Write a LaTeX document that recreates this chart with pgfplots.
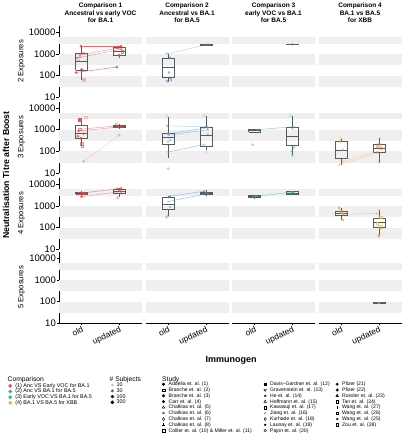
\documentclass[border=0pt]{standalone}
\usepackage{fontspec}
\setmainfont{Liberation Sans}
\usepackage{pgfplots}
\pgfplotsset{compat=1.18}
\usetikzlibrary{plotmarks}
\definecolor{cR}{HTML}{E5484D}
\definecolor{cB}{HTML}{4A97D9}
\definecolor{cG}{HTML}{2DB391}
\definecolor{cO}{HTML}{F5A732}
\definecolor{bandgray}{HTML}{EFEFEF}
\definecolor{boxc}{HTML}{5A5A5A}
\pgfplotsset{
  mypanel/.style={scale only axis, width=83pt, height=71.5pt,
    ymin=10, ymax=20000, xmin=0.4, xmax=2.6, clip=false},
  myleft/.style={axis y line*=left, y axis line style={line width=0.9pt, black},
    ytick={10,100,1000,10000}, yticklabels={10,100,1000,10000},
    yticklabel style={font=\fontsize{9.5}{10}\selectfont, inner sep=1pt},
    ytick style={black, line width=0.5pt}, tick align=outside, major tick length=2.5pt},
  mybottom/.style={axis x line*=bottom, x axis line style={line width=0.9pt, black},
    xtick={1,2}, xticklabels={old,updated},
    xticklabel style={font=\fontsize{8.4}{9}\selectfont, rotate=25, anchor=north east, inner sep=0.3pt},
    xtick style={black, line width=0.5pt}, tick align=outside, major tick length=2pt},
  mybx/.style={draw=boxc, line width=0.5pt, solid, mark=none, fill=none},
  myln/.style={line width=0.45pt, opacity=0.8, mark=*, mark size=1.1pt, mark options={solid}},
  mypA/.style={only marks, mark size=1.3pt, opacity=0.9},
  mypB/.style={only marks, mark size=1.2pt, opacity=0.65},
  mypC/.style={only marks, mark size=1.3pt, opacity=0.32},
  myleg/.style={hide axis, scale only axis, width=5pt, height=5pt, xmin=0, xmax=1, ymin=0, ymax=1,
    legend cell align=left,
    legend image code/.code={\draw[##1] plot coordinates {(2pt,0pt)};},
    legend style={at={(0,1)}, anchor=north west, draw=none, fill=none, inner sep=0pt,
      nodes={inner sep=0pt, text height=3.9pt, text depth=1.1pt},
      /tikz/every odd column/.style={column sep=3.6pt}}},
}
\newcommand{\bands}{%
  \fill[bandgray] (axis cs:0.4,30) rectangle (axis cs:2.6,100);
  \fill[bandgray] (axis cs:0.4,300) rectangle (axis cs:2.6,1000);
  \fill[bandgray] (axis cs:0.4,3000) rectangle (axis cs:2.6,6000);}
% box: #1 left x, #2 centre x, #3 right x, then lower whisker, q1, median, q3, upper whisker
\newcommand{\bp}[8]{%
  \addplot[mybx] coordinates {(#2,#4) (#2,#5)};
  \addplot[mybx] coordinates {(#2,#7) (#2,#8)};
  \addplot[mybx] coordinates {(#1,#5) (#3,#5) (#3,#7) (#1,#7) (#1,#5)};
  \addplot[mybx] coordinates {(#1,#6) (#3,#6)};}
\begin{document}
\begin{tikzpicture}
% ---------------- Row 1 ----------------
\begin{axis}[ymode=log, yminorticks=false, mypanel, myleft, hide x axis, at={(59pt,-25.8pt)}, anchor=north west]
\bands
\bp{0.84}{1}{1.16}{65}{180}{480}{1030}{2300}
\bp{1.84}{2}{2.16}{670}{860}{1370}{2100}{2400}
\addplot[myln,cR] coordinates {(0.98,2300) (2.05,2300)};
\addplot[myln,cR,opacity=0.55] coordinates {(0.88,660) (2.05,1650)};
\addplot[myln,cR,opacity=0.55,mark=triangle] coordinates {(0.95,900) (1.98,1900)};
\addplot[myln,cR] coordinates {(0.85,140) (1.93,250)};
\addplot[mypB,cR,mark=triangle] coordinates {(0.96,720)};
\addplot[mypC,cR,mark=square*] coordinates {(1.06,65)};
\addplot[mypA,cR] coordinates {(1.0,190)};
\addplot[mypB,cR,mark=o] coordinates {(0.92,480) (1.05,1100)};
\addplot[mypB,cR,mark=square] coordinates {(2.08,1250) (1.95,2100)};
\addplot[mypA,cR] coordinates {(2.0,870)};
\end{axis}
\begin{axis}[ymode=log, yminorticks=false, mypanel, hide axis, at={(145.5pt,-25.8pt)}, anchor=north west]
\bands
\bp{0.84}{1}{1.16}{50}{86}{253}{620}{1030}
\bp{1.84}{2}{2.16}{2600}{2600}{2700}{2800}{2800}
\addplot[myln,cB,opacity=0.4,mark=o] coordinates {(0.98,1030) (2.05,2700)};
\addplot[mypB,cB,mark=triangle*] coordinates {(1.05,670) (1.02,140) (1.06,78)};
\addplot[mypB,cB,mark=triangle*,mark options={rotate=180}] coordinates {(0.97,55) (1.08,62)};
\addplot[mypC,cB,mark=o] coordinates {(0.95,1100)};
\addplot[mypB,cB,mark=x] coordinates {(2.0,2700)};
\end{axis}
\begin{axis}[ymode=log, yminorticks=false, mypanel, hide axis, at={(232pt,-25.8pt)}, anchor=north west]
\bands
\bp{1.84}{2}{2.16}{2700}{2700}{2800}{2900}{2900}
\addplot[mypB,cG,mark=o] coordinates {(2.0,2800)};
\end{axis}
\begin{axis}[ymode=log, yminorticks=false, mypanel, hide axis, at={(318.5pt,-25.8pt)}, anchor=north west]
\bands
\end{axis}
% ---------------- Row 2 ----------------
\begin{axis}[ymode=log, yminorticks=false, mypanel, myleft, hide x axis, at={(59pt,-101.5pt)}, anchor=north west]
\bands
\bp{0.84}{1}{1.16}{170}{390}{650}{1590}{3300}
\bp{1.84}{2}{2.16}{1150}{1240}{1400}{1600}{1900}
\addplot[myln,cR,opacity=0.6] coordinates {(0.92,870) (2.05,1350)};
\addplot[myln,cR,opacity=0.6,mark=square] coordinates {(0.95,1050) (1.95,1500)};
\addplot[myln,cR,opacity=0.25] coordinates {(1.05,34) (2.0,560)};
\addplot[mypA,cR,mark=square*] coordinates {(0.95,2800)};
\addplot[mypC,cR,mark=square] coordinates {(1.1,3700)};
\addplot[mypB,cR,mark=square] coordinates {(1.02,170) (1.0,230)};
\addplot[mypB,cR] coordinates {(0.9,500) (1.05,650) (0.98,400)};
\addplot[mypB,cR,mark=o] coordinates {(1.92,1850) (2.1,1400)};
\end{axis}
\begin{axis}[ymode=log, yminorticks=false, mypanel, hide axis, at={(145.5pt,-101.5pt)}, anchor=north west]
\bands
\bp{0.84}{1}{1.16}{50}{205}{430}{650}{4000}
\bp{1.84}{2}{2.16}{120}{170}{560}{1240}{4400}
\addplot[myln,cB,opacity=0.6] coordinates {(1.0,650) (2.05,1240)};
\addplot[myln,cB,opacity=0.6,mark=x] coordinates {(1.02,560) (2.05,1000)};
\addplot[myln,cB,opacity=0.6,mark=x] coordinates {(1.0,93) (1.95,205)};
\addplot[myln,cB,opacity=0.45] coordinates {(0.98,1500) (2.0,1350)};
\addplot[mypC,cB,mark=o] coordinates {(0.98,4000) (1.95,4400) (2.02,93)};
\addplot[mypC,cB] coordinates {(1.0,16)};
\addplot[mypB,cB,mark=x] coordinates {(1.0,280) (1.05,330) (2.0,170) (2.05,600)};
\end{axis}
\begin{axis}[ymode=log, yminorticks=false, mypanel, hide axis, at={(232pt,-101.5pt)}, anchor=north west]
\bands
\bp{0.84}{1}{1.16}{770}{800}{900}{1000}{1020}
\bp{1.84}{2}{2.16}{65}{190}{500}{1240}{4400}
\addplot[myln,cG,opacity=0.6,mark=x] coordinates {(1.05,1000) (2.0,1350)};
\addplot[mypC,cG] coordinates {(0.95,200) (2.0,65)};
\addplot[mypC,cG,mark=o] coordinates {(1.95,4400)};
\addplot[mypB,cG,mark=x] coordinates {(2.05,1300) (2.0,1100) (2.0,180) (2.05,150) (1.98,100) (0.92,900)};
\end{axis}
\begin{axis}[ymode=log, yminorticks=false, mypanel, hide axis, at={(318.5pt,-101.5pt)}, anchor=north west]
\bands
\bp{0.84}{1}{1.16}{24}{47}{115}{280}{380}
\bp{1.84}{2}{2.16}{30}{93}{140}{220}{400}
\addplot[myln,cO,opacity=0.45,mark=triangle] coordinates {(0.95,24) (1.95,83)};
\addplot[myln,cO,opacity=0.45,mark=triangle] coordinates {(1.05,34) (1.97,100)};
\addplot[mypB,cO,mark=triangle*] coordinates {(1.0,380) (1.05,120) (0.98,280)};
\addplot[mypC,cO,mark=triangle] coordinates {(2.05,400) (2.0,30)};
\addplot[mypB,cO,mark=square] coordinates {(2.0,200) (2.05,140) (1.95,170)};
\end{axis}
% ---------------- Row 3 ----------------
\begin{axis}[ymode=log, yminorticks=false, mypanel, myleft, hide x axis, at={(59pt,-177.8pt)}, anchor=north west]
\bands
\bp{0.84}{1}{1.16}{3000}{3600}{4000}{4400}{4800}
\bp{1.84}{2}{2.16}{2500}{3900}{4800}{6000}{6600}
\addplot[myln,cR,opacity=0.5] coordinates {(1.0,2700) (2.05,4600)};
\addplot[myln,cR,opacity=0.6] coordinates {(1.05,4000) (1.95,6300)};
\addplot[mypB,cR,mark=square] coordinates {(0.95,4000) (1.05,3800)};
\addplot[mypC,cR] coordinates {(1.0,2700) (1.95,2400)};
\addplot[mypB,cR] coordinates {(2.05,6600) (2.0,5000)};
\end{axis}
\begin{axis}[ymode=log, yminorticks=false, mypanel, hide axis, at={(145.5pt,-177.8pt)}, anchor=north west]
\bands
\bp{0.84}{1}{1.16}{330}{720}{1150}{2400}{2800}
\bp{1.84}{2}{2.16}{2800}{3500}{4000}{4500}{5500}
\addplot[myln,cB,opacity=0.6] coordinates {(1.05,2800) (1.95,4800)};
\addplot[myln,cB,opacity=0.6,mark=x] coordinates {(1.0,1600) (2.05,3800)};
\addplot[mypC,cB] coordinates {(1.0,350) (0.95,300)};
\addplot[mypB,cB,mark=x] coordinates {(1.05,900) (2.0,4200) (2.05,3600)};
\end{axis}
\begin{axis}[ymode=log, yminorticks=false, mypanel, hide axis, at={(232pt,-177.8pt)}, anchor=north west]
\bands
\bp{0.84}{1}{1.16}{2200}{2400}{2700}{3000}{3200}
\bp{1.84}{2}{2.16}{3300}{3600}{4000}{4600}{4800}
\addplot[myln,cG,opacity=0.6] coordinates {(1.0,2700) (2.0,4400)};
\addplot[mypB,cG,mark=x] coordinates {(0.95,2500) (1.05,2900) (2.0,4500) (2.05,4000) (1.95,3700)};
\end{axis}
\begin{axis}[ymode=log, yminorticks=false, mypanel, hide axis, at={(318.5pt,-177.8pt)}, anchor=north west]
\bands
\bp{0.84}{1}{1.16}{230}{370}{450}{560}{810}
\bp{1.84}{2}{2.16}{42}{108}{175}{280}{680}
\addplot[myln,cO,opacity=0.5] coordinates {(1.05,420) (1.95,450)};
\addplot[mypB,cO] coordinates {(0.95,810) (1.05,230) (1.0,500)};
\addplot[mypC,cO,mark=o] coordinates {(2.0,680)};
\addplot[mypA,cO] coordinates {(2.0,42)};
\addplot[mypB,cO,mark=square] coordinates {(2.05,300) (1.95,150) (2.05,110)};
\end{axis}
% ---------------- Row 4 ----------------
\begin{axis}[ymode=log, yminorticks=false, mypanel, myleft, mybottom, at={(59pt,-251.8pt)}, anchor=north west]
\bands
\end{axis}
\begin{axis}[ymode=log, yminorticks=false, mypanel, mybottom, hide y axis, at={(145.5pt,-251.8pt)}, anchor=north west]
\bands
\end{axis}
\begin{axis}[ymode=log, yminorticks=false, mypanel, mybottom, hide y axis, at={(232pt,-251.8pt)}, anchor=north west]
\bands
\end{axis}
\begin{axis}[ymode=log, yminorticks=false, mypanel, mybottom, hide y axis, at={(318.5pt,-251.8pt)}, anchor=north west]
\bands
\bp{1.84}{2}{2.16}{82}{82}{90}{98}{98}
\addplot[mypB,cO] coordinates {(2.0,90)};
\end{axis}
% ---------------- Titles ----------------
\begin{scope}[every node/.style={align=center, font=\bfseries\fontsize{6.5}{7.7}\selectfont}]
\node at (100.5pt,-12.7pt) {Comparison 1\\Ancestral vs early VOC\\for BA.1};
\node at (187pt,-12.7pt) {Comparison 2\\Ancestral vs BA.1\\for BA.5};
\node at (273.5pt,-12.7pt) {Comparison 3\\early VOC vs BA.1\\for BA.5};
\node at (360pt,-12.7pt) {Comparison 4\\BA.1 vs BA.5\\for XBB};
\end{scope}
\begin{scope}[every node/.style={rotate=90, font=\fontsize{7.7}{8}\selectfont}]
\node at (21.5pt,-61.5pt) {2 Exposures};
\node at (21.5pt,-137.3pt) {3 Exposures};
\node at (21.5pt,-213.5pt) {4 Exposures};
\node at (21.5pt,-287.5pt) {5 Exposures};
\end{scope}
\node[rotate=90, font=\bfseries\fontsize{8.7}{9}\selectfont] at (6pt,-175pt) {Neutralisation Titre after Boost};
\node[font=\bfseries\fontsize{9}{10}\selectfont] at (231pt,-360pt) {Immunogen};
% ---------------- Legends ----------------
\begin{scope}[every node/.style={anchor=west, font=\fontsize{6.7}{7}\selectfont, inner sep=0pt}]
\node at (7.5pt,-379.5pt) {Comparison};
\node at (109.5pt,-379.5pt) {\# Subjects};
\node at (162pt,-379.5pt) {Study};
\end{scope}
\begin{axis}[myleg, at={(8.4pt,-383.2pt)}, anchor=north west,
  legend style={font=\fontsize{5.4}{6}\selectfont, row sep=0.6pt}]
\addlegendimage{cR, mark=*, mark size=1.6pt}\addlegendentry{(1) Anc VS Early VOC for BA.1}
\addlegendimage{cB, mark=*, mark size=1.6pt}\addlegendentry{(2) Anc VS BA.1 for BA.5}
\addlegendimage{cG, mark=*, mark size=1.6pt}\addlegendentry{(3) Early VOC VS BA.1 for BA.5}
\addlegendimage{cO, mark=*, mark size=1.6pt}\addlegendentry{(4) BA.1 VS BA.5 for XBB}
\end{axis}
\begin{axis}[myleg, at={(110.6pt,-382.5pt)}, anchor=north west,
  legend style={font=\fontsize{5.4}{6}\selectfont, row sep=0.7pt, /tikz/every odd column/.style={column sep=2.6pt}}]
\addlegendimage{black!25, mark=*, mark size=1.1pt}\addlegendentry{10}
\addlegendimage{black!60, mark=*, mark size=1.3pt}\addlegendentry{30}
\addlegendimage{black!90, mark=*, mark size=1.5pt}\addlegendentry{100}
\addlegendimage{black, mark=*, mark size=1.6pt}\addlegendentry{300}
\end{axis}
\begin{axis}[myleg, at={(161.7pt,-381.5pt)}, anchor=north west,
  legend style={font=\fontsize{5.1}{6}\selectfont, row sep=0.8pt}]
\addlegendimage{black, mark=*, mark size=1.3pt}\addlegendentry{Addelia et. al. (1)}
\addlegendimage{black, mark=square, mark size=1.3pt}\addlegendentry{Branche et. al. (2)}
\addlegendimage{black, mark=otimes, mark size=1.3pt}\addlegendentry{Branche et. al. (3)}
\addlegendimage{black, mark=*, mark size=1.3pt}\addlegendentry{Carr et. al. (4)}
\addlegendimage{black, mark=triangle, mark size=1.5pt}\addlegendentry{Chalkias et. al. (5)}
\addlegendimage{black, mark=x, mark size=1.4pt}\addlegendentry{Chalkias et. al. (6)}
\addlegendimage{black, mark=diamond, mark size=1.5pt}\addlegendentry{Chalkias et. al. (7)}
\addlegendimage{black, mark=+, mark size=1.6pt}\addlegendentry{Chalkias et. al. (8)}
\addlegendimage{black, mark=square, mark size=1.3pt}\addlegendentry{Collier et. al. (10) \& Miller et. al. (11)}
\end{axis}
\begin{axis}[myleg, at={(263.7pt,-381.5pt)}, anchor=north west,
  legend style={font=\fontsize{5.1}{6}\selectfont, row sep=0.8pt}]
\addlegendimage{black, mark=square*, mark size=1.3pt}\addlegendentry{Davis–Gardner et. al. (12)}
\addlegendimage{black, mark=triangle, mark size=1.5pt, mark options={rotate=180}}\addlegendentry{Gravenstein et. al. (13)}
\addlegendimage{black, mark=asterisk, mark size=1.2pt}\addlegendentry{He et. al. (14)}
\addlegendimage{black, mark=triangle, mark size=1.5pt}\addlegendentry{Hoffmann et. al. (15)}
\addlegendimage{black, mark=square, mark size=1.3pt}\addlegendentry{Kawasuji et. al. (17)}
\addlegendimage{black, mark=|, mark size=1.2pt, mark options={rotate=-45}}\addlegendentry{Jiang et. al. (16)}
\addlegendimage{black, mark=diamond, mark size=1.5pt}\addlegendentry{Kurhade et. al. (18)}
\addlegendimage{black, mark=*, mark size=0.9pt}\addlegendentry{Launay et. al. (19)}
\addlegendimage{black, mark=o, mark size=1.3pt}\addlegendentry{Pajon et. al. (20)}
\end{axis}
\begin{axis}[myleg, at={(335.7pt,-381.5pt)}, anchor=north west,
  legend style={font=\fontsize{5.1}{6}\selectfont, row sep=0.8pt}]
\addlegendimage{black, mark=oplus, mark size=1.3pt}\addlegendentry{Pfizer (21)}
\addlegendimage{black, mark=oplus, mark size=1.3pt}\addlegendentry{Pfizer (22)}
\addlegendimage{black, mark=triangle*, mark size=1.5pt}\addlegendentry{Rossler et. al. (23)}
\addlegendimage{black, mark=square, mark size=1.3pt}\addlegendentry{Tan et. al. (24)}
\addlegendimage{black, mark=|, mark size=1.2pt}\addlegendentry{Wang et. al. (27)}
\addlegendimage{black, mark=square, mark size=1.3pt}\addlegendentry{Wang et. al. (26)}
\addlegendimage{black, mark=asterisk, mark size=1.2pt}\addlegendentry{Wang et. al. (25)}
\addlegendimage{black, mark=square, mark size=1.3pt}\addlegendentry{Zou et. al. (28)}
\end{axis}
\pgfresetboundingbox
\path[use as bounding box] (0,0) rectangle (403pt,-440pt);
\end{tikzpicture}
\end{document}
